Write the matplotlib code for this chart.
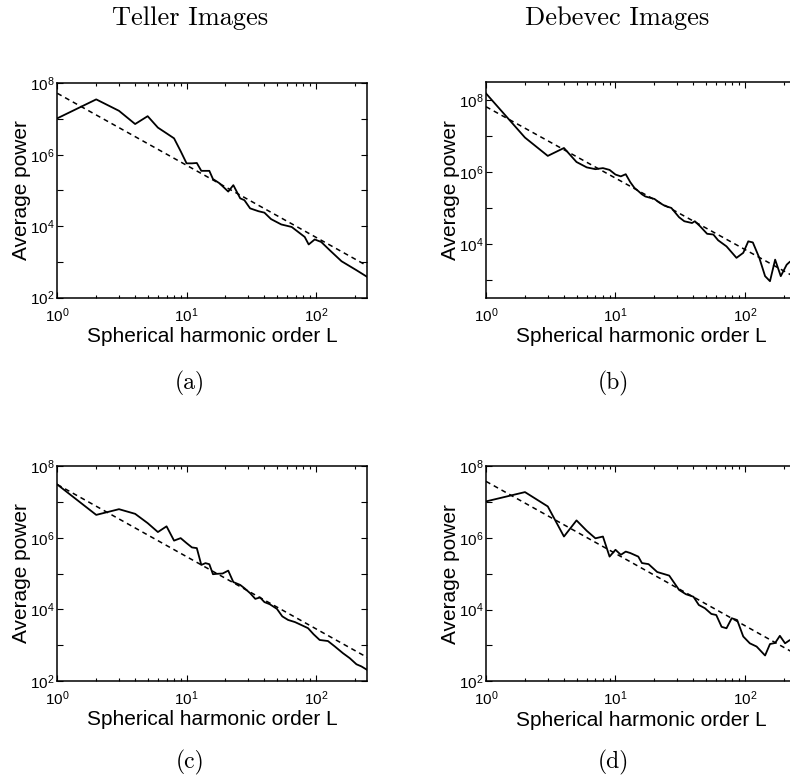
import numpy as np
import matplotlib
matplotlib.use("Agg")
import matplotlib.pyplot as plt
from matplotlib.ticker import FixedLocator, FuncFormatter, NullFormatter

plt.rcParams["font.family"] = ["Liberation Sans", "DejaVu Sans"]
plt.rcParams["mathtext.fontset"] = "custom"
plt.rcParams["mathtext.rm"] = "Liberation Sans"
plt.rcParams["mathtext.it"] = "Liberation Sans:italic"
plt.rcParams["mathtext.bf"] = "Liberation Sans:bold"

#
#   Data (log10 of average power)
#

# (a) Teller images
L_a = [1, 2, 3, 4, 5, 6, 7, 8, 9, 10, 11, 12, 13, 14, 15, 16, 17, 18, 21, 23,
       26, 28, 31, 36, 40, 45, 54, 65, 73, 82, 88, 98, 110, 128, 158, 206, 250]
P_a = [7.02, 7.55, 7.23, 6.86, 7.08, 6.76, 6.60, 6.46, 6.10, 5.76, 5.76, 5.77,
       5.55, 5.55, 5.55, 5.32, 5.26, 5.20, 4.97, 5.15, 4.78, 4.73, 4.50, 4.42,
       4.38, 4.20, 4.05, 3.98, 3.84, 3.70, 3.49, 3.63, 3.56, 3.33, 3.02, 2.77, 2.58]
fit_a = [7.72, 2.89]

# (b) Debevec images
L_b = [1, 2, 3, 4, 5, 6, 7, 8, 9, 10, 11, 12, 13, 14, 15, 16, 17, 20, 22, 24,
       27, 31, 34, 39, 41, 45, 51, 57, 62, 72, 86, 97, 106, 115, 129, 143, 156,
       171, 189, 210, 222, 250]
P_b = [8.19, 6.96, 6.45, 6.67, 6.28, 6.13, 6.08, 6.11, 6.06, 5.93, 5.88, 5.94,
       5.72, 5.56, 5.47, 5.38, 5.32, 5.25, 5.14, 5.06, 5.00, 4.74, 4.63, 4.58,
       4.63, 4.49, 4.28, 4.26, 4.10, 3.93, 3.61, 3.75, 4.07, 4.04, 3.61, 3.10,
       2.96, 3.56, 3.10, 3.42, 3.50, 3.58]
fit_b = [7.82, 3.05]

# (c) Teller images
L_c = [1, 2, 3, 4, 5, 6, 7, 8, 9, 10, 11, 12, 13, 14, 15, 16, 17, 19, 21, 23,
       26, 28, 31, 34, 37, 40, 44, 50, 55, 61, 69, 77, 87, 96, 107, 124, 140,
       162, 183, 206, 225, 250]
P_c = [7.49, 6.64, 6.80, 6.67, 6.41, 6.16, 6.32, 5.92, 5.99, 5.85, 5.73, 5.71,
       5.24, 5.29, 5.26, 4.98, 4.99, 5.00, 5.08, 4.76, 4.68, 4.59, 4.45, 4.29,
       4.33, 4.20, 4.14, 4.01, 3.80, 3.70, 3.64, 3.56, 3.47, 3.30, 3.14, 3.11,
       2.96, 2.77, 2.63, 2.46, 2.40, 2.30]
fit_c = [7.49, 2.65]

# (d) Debevec images
L_d = [1, 2, 3, 4, 5, 6, 7, 8, 9, 10, 11, 12, 13, 15, 16, 18, 21, 26, 31, 35,
       40, 44, 49, 55, 60, 66, 72, 79, 87, 97, 109, 123, 143, 156, 171, 186,
       204, 222, 250]
P_d = [7.02, 7.28, 6.88, 6.04, 6.49, 6.20, 5.99, 6.04, 5.48, 5.67, 5.53, 5.62,
       5.58, 5.48, 5.30, 5.27, 5.05, 4.95, 4.55, 4.43, 4.36, 4.13, 4.04, 3.88,
       3.85, 3.52, 3.48, 3.76, 3.71, 3.25, 3.06, 2.97, 2.72, 3.04, 3.07, 3.27,
       3.06, 3.15, 3.10]
fit_d = [7.58, 2.75]

fit_L = [1, 250]
L_max = 250

#
#   Figure
#

W, H = 790, 783
fig = plt.figure(figsize=(W / 100, H / 100), dpi=100)


def px_axes(left, top, right, bottom):
    return fig.add_axes([left / W, 1 - bottom / H, (right - left) / W, (bottom - top) / H])


def even_decades(v, pos):
    e = int(round(np.log10(v)))
    if e % 2:
        return ""
    return r"$\mathdefault{10^{%d}}$" % e


def x_decades(v, pos):
    e = int(round(np.log10(v)))
    return r"$\mathdefault{10^{%d}}$" % e


panels = [
    (L_a, P_a, fit_a, (57.3, 83.3, 367.3, 297.7), (2, 8)),
    (L_b, P_b, fit_b, (486, 82.3, 796.5, 297.7), (2.5, 8.5)),
    (L_c, P_c, fit_c, (57.3, 466.3, 367.3, 680.7), (2, 8)),
    (L_d, P_d, fit_d, (486, 466.3, 796.5, 681.3), (2, 8)),
]

for L, P, fit, box, ylog in panels:
    ax = px_axes(*box)
    ax.loglog(L, np.power(10.0, P), color="black", lw=1.3)
    ax.loglog(fit_L, np.power(10.0, fit), color="black", lw=1.1, dashes=(3.2, 2.6))
    ax.set_xlim(1, L_max)
    ax.set_ylim(10 ** ylog[0], 10 ** ylog[1])

    # only the decades inside the y range
    decades = [10.0 ** k for k in range(int(np.ceil(ylog[0])), int(np.floor(ylog[1])) + 1)]
    ax.yaxis.set_major_locator(FixedLocator(decades))
    ax.yaxis.set_major_formatter(FuncFormatter(even_decades))
    ax.yaxis.set_minor_locator(FixedLocator([]))
    ax.xaxis.set_major_locator(FixedLocator([1, 10, 100]))
    ax.xaxis.set_major_formatter(FuncFormatter(x_decades))
    ax.xaxis.set_minor_locator(FixedLocator([m * 10.0 ** k for k in range(0, 3) for m in range(2, 10)]))
    ax.xaxis.set_minor_formatter(NullFormatter())

    ax.tick_params(which="both", direction="in", top=True, right=True, width=0.8,
                   labelsize=11, colors="black")
    ax.tick_params(which="major", length=4)
    ax.tick_params(which="minor", length=2.5)
    ax.tick_params(axis="x", which="major", pad=6)
    ax.tick_params(axis="y", which="major", pad=2)
    for s in ax.spines.values():
        s.set_linewidth(1.1)

    ax.set_xlabel("Spherical harmonic order L", fontsize=15, labelpad=2)
    ax.set_ylabel("Average power", fontsize=15, labelpad=-1)

# Column titles and panel captions
serif = ["cmr10", "DejaVu Serif"]
fig.text(190 / W, 1 - 18 / H, "Teller Images", family=serif, fontsize=19, ha="center", va="center")
fig.text(617 / W, 1 - 18 / H, "Debevec Images", family=serif, fontsize=19, ha="center", va="center")
for label, x, y in [("(a)", 190, 383), ("(b)", 613, 383), ("(c)", 190, 762), ("(d)", 613, 762)]:
    fig.text(x / W, 1 - y / H, label, family=serif, fontsize=17, ha="center", va="center")

fig.savefig("out.png", dpi=100)
